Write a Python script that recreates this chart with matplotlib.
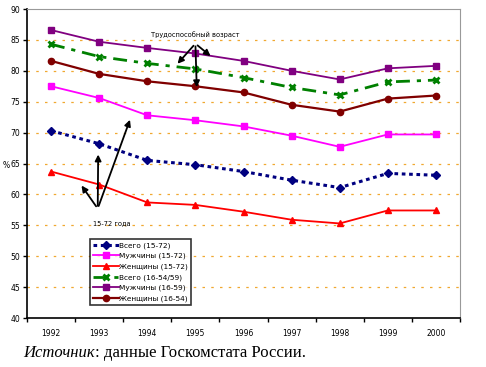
import matplotlib
matplotlib.use("Agg")
import matplotlib.pyplot as plt
import numpy as np

years = ["1992", "1993", "1994", "1995", "1996", "1997", "1998", "1999", "2000"]
total_15_72 = [70.3, 68.2, 65.5, 64.8, 63.7, 62.3, 61.1, 63.4, 63.1]
men_15_72 = [77.5, 75.6, 72.8, 72.0, 71.0, 69.5, 67.7, 69.7, 69.7]
women_15_72 = [63.7, 61.6, 58.7, 58.3, 57.2, 55.9, 55.3, 57.4, 57.4]
total_16_54_59 = [84.3, 82.3, 81.2, 80.3, 78.9, 77.3, 76.1, 78.2, 78.5]
men_16_59 = [86.6, 84.7, 83.7, 82.8, 81.6, 80.0, 78.6, 80.4, 80.8]
women_16_54 = [81.6, 79.5, 78.3, 77.5, 76.5, 74.5, 73.4, 75.5, 76.0]
labels = ["Всего (15-72)", "Мужчины (15-72)", "Женщины (15-72)",
          "Всего (16-54/59)", "Мужчины (16-59)", "Женщины (16-54)"]

fig = plt.figure(figsize=(4.86, 3.67), dpi=100)
ax = fig.add_axes([27/486, 1-318/367, 433/486, 309/367])
x = np.arange(len(years))

ax.plot(x, total_15_72, color="#000080", ls=(0, (1.2, 1.2)), lw=2.2, marker="D", ms=4.5, label=labels[0])
ax.plot(x, men_15_72, color="#FF00FF", ls="-", lw=1.3, marker="s", ms=5, label=labels[1])
ax.plot(x, women_15_72, color="#FF0000", ls="-", lw=1.3, marker="^", ms=5, label=labels[2])
ax.plot(x, total_16_54_59, color="#008000", ls=(0, (5, 2.5, 1.5, 2.5)), lw=2.0, marker="x", ms=5, mew=2, label=labels[3])
ax.plot(x, men_16_59, color="#800080", ls="-", lw=1.3, marker="s", ms=4.5, label=labels[4])
ax.plot(x, women_16_54, color="#800000", ls="-", lw=1.6, marker="o", ms=4.5, label=labels[5])

ax.set_xlim(-0.5, len(years) - 0.5)
ax.set_ylim(40, 90)
ax.set_yticks(np.arange(40, 91, 5))
ax.set_xticks(x)
ax.set_xticklabels(years)
ax.set_xticks(np.arange(-0.5, len(years)), minor=True)
ax.tick_params(axis="x", which="major", length=0, labelsize=5.5, pad=8)
ax.tick_params(axis="x", which="minor", length=3, width=1, direction="out")
ax.tick_params(axis="y", length=3, width=1, labelsize=5.5, pad=2)
for v in range(45, 90, 5):
    ax.axhline(v, color="#F0A830", ls=(0, (2, 5)), lw=0.9, zorder=0)
ax.spines["left"].set_color("black")
ax.spines["bottom"].set_color("black")
ax.spines["left"].set_linewidth(1.2)
ax.spines["bottom"].set_linewidth(1.2)
ax.spines["top"].set_color("#999999")
ax.spines["right"].set_color("#999999")

fig.text(6/486, 1-165/367, "%", fontsize=5.5, ha="center", va="center")

leg = ax.legend(loc="upper left", bbox_to_anchor=((90-27)/433, (318-239)/309),
                fontsize=5.3, frameon=True, fancybox=False, edgecolor="black",
                handlelength=3.5, handletextpad=0.1, borderpad=0.4, labelspacing=0.55,
                borderaxespad=0)
leg.get_frame().set_linewidth(1.2)

arrow = dict(arrowstyle="-|>", color="black", lw=1.3, mutation_scale=9)
ax.text(3.0, 85.8, "Трудоспособный возраст", fontsize=4.8, ha="center", va="center")
for tx, ty in [(2.59, 80.8), (3.36, 82.1), (3.03, 76.9)]:
    ax.annotate("", xy=(tx, ty), xytext=(3.0, 84.4), arrowprops=arrow)
ax.text(1.26, 55.4, "15-72 года", fontsize=4.8, ha="center", va="center")
for tx, ty in [(0.98, 66.9), (0.6, 61.8), (1.66, 72.5)]:
    ax.annotate("", xy=(tx, ty), xytext=(0.97, 57.7), arrowprops=arrow)

t1 = fig.text(23/486, 1-353/367, "Источник", fontsize=12, family="Liberation Serif",
              style="italic", ha="left", va="center")
fig.canvas.draw()
bb = t1.get_window_extent(renderer=fig.canvas.get_renderer())
x_end = bb.x1 / fig.bbox.width
fig.text(x_end, 1-353/367, ": данные Госкомстата России.", fontsize=12,
         family="Liberation Serif", ha="left", va="center")

fig.savefig("out.png", dpi=100)
